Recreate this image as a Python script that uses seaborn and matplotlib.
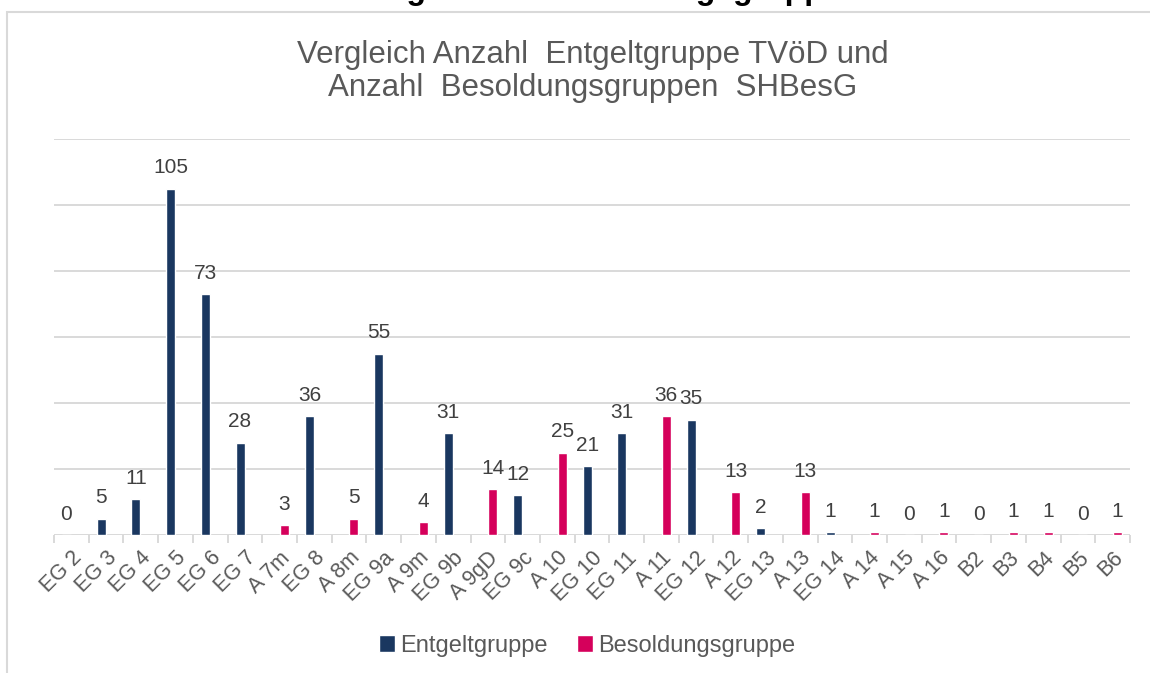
import matplotlib
matplotlib.use("Agg")
import matplotlib.pyplot as plt
from matplotlib.patches import Rectangle
from matplotlib.ticker import FixedLocator
import numpy as np
import pandas as pd
import seaborn as sns

categories = ["EG 2", "EG 3", "EG 4", "EG 5", "EG 6", "EG 7", "A 7m", "EG 8", "A 8m",
              "EG 9a", "A 9m", "EG 9b", "A 9gD", "EG 9c", "A 10", "EG 10", "EG 11",
              "A 11", "EG 12", "A 12", "EG 13", "A 13", "EG 14", "A 14", "A 15",
              "A 16", "B2", "B3", "B4", "B5", "B6"]
entgelt = [0, 5, 11, 105, 73, 28, None, 36, None, 55, None, 31, None, 12, None, 21, 31,
           None, 35, None, 2, None, 1, None, None, None, None, None, None, None, None]
besoldung = [None, None, None, None, None, None, 3, None, 5, None, 4, None, 14, None, 25,
             None, None, 36, None, 13, None, 13, None, 1, 0, 1, 0, 1, 1, 0, 1]
series_names = ["Entgeltgruppe", "Besoldungsgruppe"]
title_text = "Vergleich Anzahl  Entgeltgruppe TVöD und\nAnzahl  Besoldungsgruppen  SHBesG"
heading_text = "Entgelt- und Besoldungsgruppen"

rows = []
for cat, e, b in zip(categories, entgelt, besoldung):
    rows.append({"Gruppe": cat, "Serie": series_names[0], "Anzahl": e})
    rows.append({"Gruppe": cat, "Serie": series_names[1], "Anzahl": b})
df = pd.DataFrame(rows).dropna(subset=["Anzahl"])

sns.set_theme(style="white")
plt.rcParams["font.family"] = ["Liberation Sans", "DejaVu Sans"]

navy = "#1A3760"
pink = "#D5005B"
grid_c = "#D9D9D9"
text_c = "#595959"

fig = plt.figure(figsize=(11.5, 6.73), dpi=100)
ax = fig.add_axes([54 / 1150, 1 - 535 / 673, (1130 - 54) / 1150, (535 - 139) / 673])

sns.barplot(data=df, x="Gruppe", y="Anzahl", hue="Serie", order=categories,
            hue_order=series_names, palette=[navy, pink], errorbar=None,
            width=0.56, gap=0.08, dodge=True, saturation=1, ax=ax, legend=True,
            zorder=3)

for c in ax.containers:
    ax.bar_label(c, fmt="%d", padding=8, color="#404040", fontsize=15)

ax.set_ylim(0, 120)
ax.set_xlim(-0.5, len(categories) - 0.5)
ax.set_yticks(np.arange(0, 121, 20))
ax.set_yticklabels([])
ax.yaxis.grid(True, color=grid_c, lw=1.4, zorder=0)
ax.set_axisbelow(True)
for s in ax.spines.values():
    s.set_visible(False)
ax.set_xlabel("")
ax.set_ylabel("")
ax.set_xticks(range(len(categories)))
ax.set_xticklabels(categories, rotation=45, ha="right", rotation_mode="anchor",
                   fontsize=15.5, color=text_c)
ax.xaxis.set_minor_locator(FixedLocator(np.arange(-0.5, len(categories), 1)))
ax.tick_params(axis="x", which="major", length=0, pad=9)
ax.tick_params(axis="x", which="minor", length=6, color=grid_c, width=1.4, bottom=True)
ax.tick_params(axis="y", length=0)

handles, labels = ax.get_legend_handles_labels()
ax.get_legend().remove()
fig.legend(handles, labels, loc="center", bbox_to_anchor=(587 / 1150, 1 - 646 / 673),
           ncol=2, frameon=False, fontsize=17, labelcolor=text_c, handlelength=0.7,
           handleheight=0.7, handletextpad=0.2, columnspacing=1.25)

fig.text(593 / 1150, 1 - 40 / 673, title_text, ha="center", va="top", fontsize=22.5,
         color=text_c, linespacing=1.14, multialignment="center")
fig.text(355 / 1150, 1 + 1.5 / 673, heading_text, ha="left", va="baseline",
         fontsize=23, fontweight="bold", color="black")

fig.patches.append(Rectangle((7 / 1150, -0.1), 2, 1 - 12 / 673 + 0.1,
                             transform=fig.transFigure, fill=False,
                             edgecolor=grid_c, lw=1.5))

fig.savefig("out.png", dpi=100)
